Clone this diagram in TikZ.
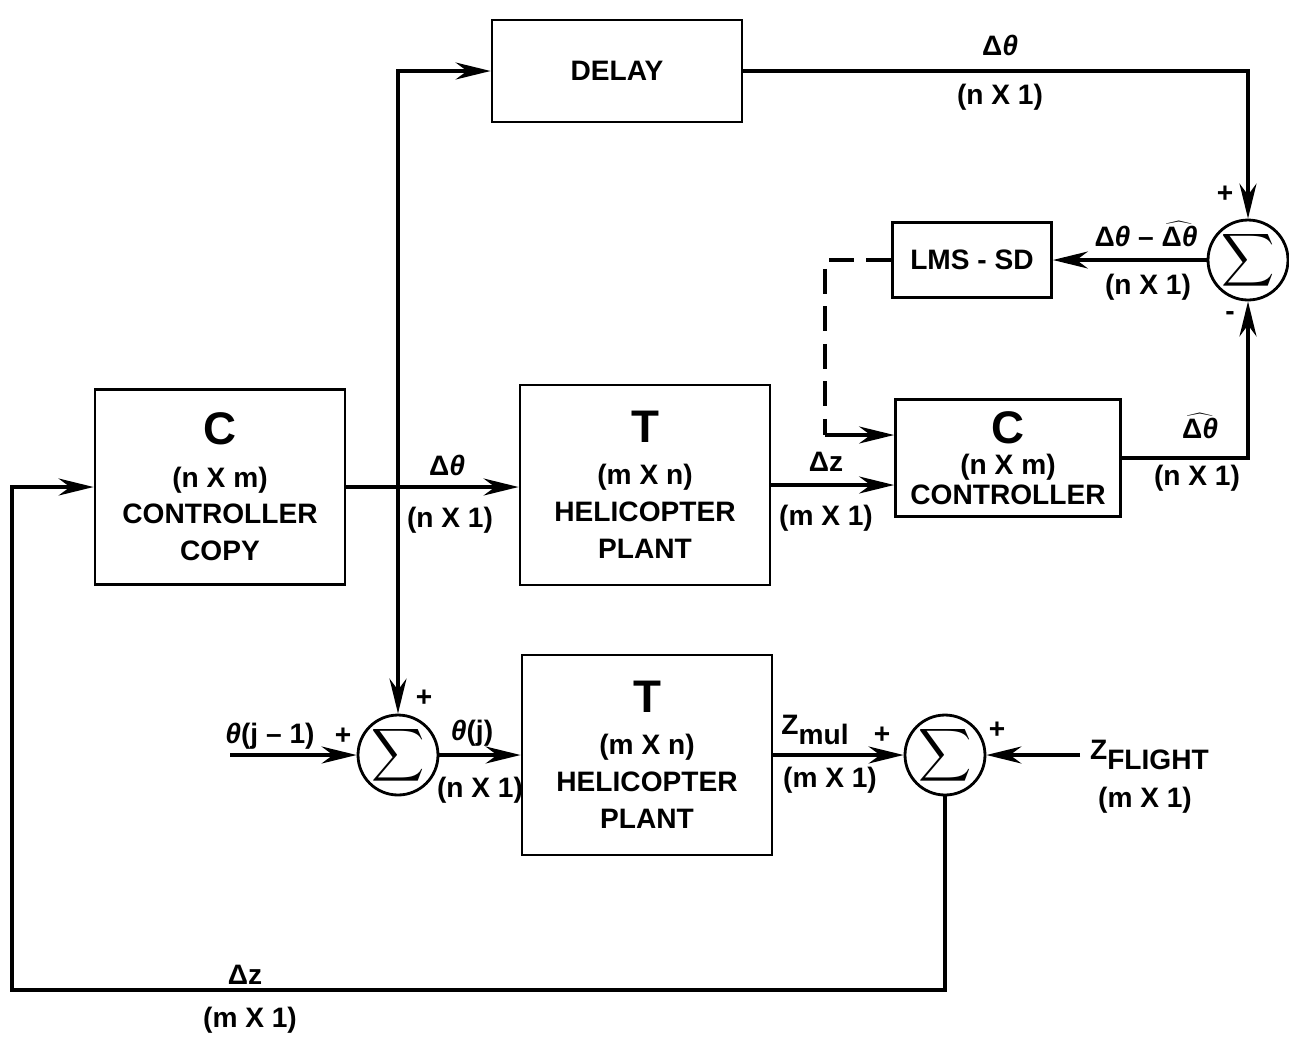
\documentclass[tikz,border=0pt]{standalone}
\usepackage{fontspec}
\setmainfont{Liberation Sans}
\usetikzlibrary{
    positioning,
    arrows.meta,
    calc
}

\newcommand{\bigletter}{\fontsize{26}{26}\selectfont}
\newcommand{\sumsym}{\scalebox{2.1}{$\displaystyle\sum$}}
\newcommand{\dth}{Δ\textit{θ}}
\newcommand{\dthhat}{$\widehat{\mbox{\bfseries Δ\textit{θ}}}$}

\begin{document}
\begin{tikzpicture}[
    x=0.02cm, y=-0.02cm,
    block/.style={
        draw, rectangle, line width=1.6pt, align=center, inner sep=0pt,
        font=\bfseries\fontsize{16}{21}\selectfont
    },
    sum/.style={
        draw, circle, line width=1.6pt, minimum size=1.6cm, inner sep=0pt
    },
    arrow/.style={-{Stealth[length=7mm,width=3.4mm]}, line width=2pt},
    line/.style={line width=2pt},
    lbl/.style={font=\bfseries\fontsize{16}{19}\selectfont, inner sep=1pt}
]
\useasboundingbox (0,0) rectangle (1289,1036);

% ============================== BLOCKS ==============================
\node[block, minimum width=5cm, minimum height=2.04cm] (delay) at (617,71) {DELAY};
\node[block, minimum width=5cm, minimum height=3.9cm] (copy) at (220,487)
    {{\bigletter C}\\[3pt](n X m)\\CONTROLLER\\COPY};
\node[block, minimum width=5cm, minimum height=4cm] (plant_up) at (645,485)
    {{\bigletter T}\\[3pt](m X n)\\HELICOPTER\\PLANT};
\node[block, minimum width=4.5cm, minimum height=2.34cm, font=\bfseries\fontsize{16}{17}\selectfont] (ctrl) at (1008,458)
    {{\bigletter C}\\[1pt](n X m)\\CONTROLLER};
\node[block, minimum width=3.18cm, minimum height=1.5cm] (lms) at (972,260) {LMS - SD};
\node[block, minimum width=5cm, minimum height=4cm] (plant_low) at (647,755)
    {{\bigletter T}\\[3pt](m X n)\\HELICOPTER\\PLANT};

% ============================== SUMS ==============================
\node[sum] (sum_err) at (1248,260) {\sumsym};
\node[sum] (sum_theta) at (398,755) {\sumsym};
\node[sum] (sum_z) at (945,755) {\sumsym};

% ============================== FLOW ==============================
\coordinate (split) at (sum_theta |- copy.east);
\draw[arrow] (copy.east) -- (copy.east -| plant_up.west);
\draw[arrow] (split) -- (sum_theta.north);
\draw[arrow] (split) -- (split |- delay.west) -- (delay.west);
\draw[arrow] (delay.east) -| (sum_err.north);
\draw[arrow] (sum_err.west) -- (lms.east);
\draw[arrow] (plant_up.east) -- (plant_up.east -| ctrl.west);
\draw[arrow] (ctrl.east) -| (sum_err.south);

% adaptation path (dashed)
\coordinate (adapt) at (825,435);
\draw[line, dash pattern=on 0.5cm off 0.25cm] (lms.west) -| (adapt);
\draw[arrow] (adapt) -- (adapt -| ctrl.west);

% lower loop
\coordinate (theta_in) at (230,755);
\coordinate (z_in) at (1080,755);
\coordinate (fb_corner) at (12,990);
\draw[arrow] (theta_in) -- (sum_theta.west);
\draw[arrow] (sum_theta.east) -- (plant_low.west);
\draw[arrow] (plant_low.east) -- (sum_z.west);
\draw[arrow] (z_in) -- (sum_z.east);
\draw[arrow] (sum_z.south) |- (fb_corner) |- (copy.west);

% ============================== LABELS ==============================
\node[lbl] (l_dth_a) at (447,465) {\dth};
\node[lbl] (l_dim_a) at (450,520) {(n X 1)};
\node[lbl] (l_dz_a) at (826,462) {Δz};
\node[lbl] (l_dim_b) at (826,518) {(m X 1)};
\node[lbl] (l_dth_b) at (1000,45) {\dth};
\node[lbl] (l_dim_c) at (1000,97) {(n X 1)};
\node[lbl] (l_err) at (1146,234) {\dth\ – \dthhat};
\node[lbl] (l_dim_d) at (1148,287) {(n X 1)};
\node[lbl] (l_hat) at (1200,426) {\dthhat};
\node[lbl] (l_dim_e) at (1197,478) {(n X 1)};
\node[lbl] (p_err) at (1225,194) {+};
\node[lbl] (m_err) at (1230,316) {-};

\node[lbl] (l_thprev) at (270,736) {\textit{θ}(j – 1)};
\node[lbl] (p_th_a) at (343,736) {+};
\node[lbl] (p_th_b) at (424,698) {+};
\node[lbl] (l_thj) at (472,733) {\textit{θ}(j)};
\node[lbl] (l_dim_f) at (480,790) {(n X 1)};

\node[lbl] (l_zmul) at (815,730) {Z\raisebox{-5.5pt}{mul}};
\node[lbl] (p_z_a) at (882,735) {+};
\node[lbl] (l_dim_g) at (830,780) {(m X 1)};
\node[lbl] (p_z_b) at (997,730) {+};
\node[lbl, anchor=west] (l_zfl) at (1088,755) {Z\raisebox{-5.5pt}{FLIGHT}};
\node[lbl] (l_dim_h) at (1145,800) {(m X 1)};

\node[lbl] (l_dz_b) at (245,975) {Δz};
\node[lbl] (l_dim_i) at (250,1020) {(m X 1)};

\end{tikzpicture}
\end{document}
